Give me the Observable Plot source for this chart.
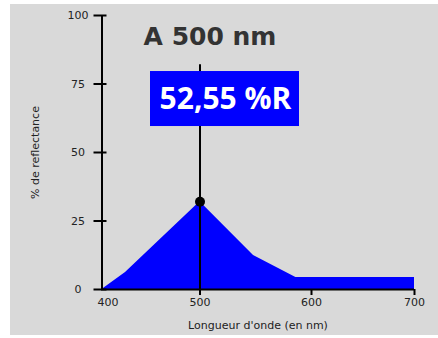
<!DOCTYPE html>
<html><head><meta charset="utf-8">
<script src="https://cdn.jsdelivr.net/npm/d3@7"></script>
<script src="https://cdn.jsdelivr.net/npm/@observablehq/plot@0.6"></script>
<style>
html,body{margin:0;padding:0;background:#fff;}
#panel{position:absolute;left:10px;top:4px;width:428px;height:331px;background:#d9d9d9;}
#panel svg{display:block;}
</style></head><body><div id="panel"></div>
<script>
const wavelengths = [400, 424, 500, 548, 586, 700];
const reflectance = [0, 6.2, 32, 12.4, 4.4, 4.4];
const xTicks = [400, 500, 600, 700];
const yTicks = [0, 25, 50, 75, 100];
const cursorWavelength = 500;
const cursorValue = 32;
const cursorTop = 82;
const cursorLabel = "52,55 %R";
const title = "A 500 nm";
const xLabel = "Longueur d'onde (en nm)";
const yLabel = "% de reflectance";

const data = wavelengths.map((w, i) => ({w, r: reflectance[i]}));

function cursorLabelMark(index, {x, y}) {
  const cx = x(cursorWavelength), top = y(cursorTop);
  const g = d3.create("svg:g");
  g.append("rect").attr("x", cx - 49.5).attr("y", top + 6.7).attr("width", 149).attr("height", 55).attr("fill", "#0000ff");
  g.append("text").attr("x", cx + 26).attr("y", top + 44.7).attr("text-anchor", "middle")
    .attr("fill", "#fff").attr("font-family", "Open Sans").attr("font-weight", "bold")
    .attr("font-size", 30).text(cursorLabel);
  return g.node();
}

const chart = Plot.plot({
  width: 428, height: 331,
  marginLeft: 91, marginRight: 24, marginTop: 11, marginBottom: 46,
  style: {background: "transparent", fontFamily: "DejaVu Sans", fontSize: "11px", color: "#222"},
  x: {type: "linear", domain: xTicks, range: [91.5, 189.5, 301, 404]},
  y: {domain: [0, 100]},
  marks: [
    Plot.areaY(data, {x: "w", y: "r", fill: "#0000ff"}),
    Plot.ruleX([400], {stroke: "#000", strokeWidth: 2}),
    Plot.ruleY([0], {stroke: "#000", strokeWidth: 2}),
    Plot.axisY({ticks: yTicks, label: null, tickSize: 13, dx: 5.5, tickFormat: () => "", strokeWidth: 2, stroke: "#000"}),
    Plot.text(yTicks, {y: d => d, text: d => String(d), frameAnchor: "left", dx: -23.5, textAnchor: "middle", fill: "#222", fontSize: 11}),
    Plot.axisX({ticks: xTicks.slice(1), label: null, tickSize: 6, tickPadding: 3, strokeWidth: 2, stroke: "#000", fill: "#222", fontSize: 11}),
    Plot.axisX({ticks: [400], label: null, tickSize: 0, tickPadding: 9, dx: 6, fill: "#222", fontSize: 11}),
    Plot.text([xLabel], {frameAnchor: "bottom", lineAnchor: "middle", textAnchor: "middle", dy: 36, fill: "#222", fontSize: 11}),
    Plot.text([yLabel], {frameAnchor: "left", rotate: -90, textAnchor: "middle", lineAnchor: "middle", dx: -66, fill: "#222", fontSize: 11}),
    Plot.ruleX([cursorWavelength], {y1: 0, y2: cursorTop, stroke: "#000", strokeWidth: 2}),
    Plot.dot([{w: cursorWavelength, r: cursorValue}], {x: "w", y: "r", r: 5, fill: "#000"}),
    cursorLabelMark,
    Plot.text([title], {x: [cursorWavelength], frameAnchor: "top", lineAnchor: "top", dx: 10, dy: 12,
      fontSize: 25, fontWeight: "bold", fill: "#333", fontFamily: "DejaVu Sans"})
  ]
});
document.getElementById("panel").appendChild(chart);
</script></body></html>
